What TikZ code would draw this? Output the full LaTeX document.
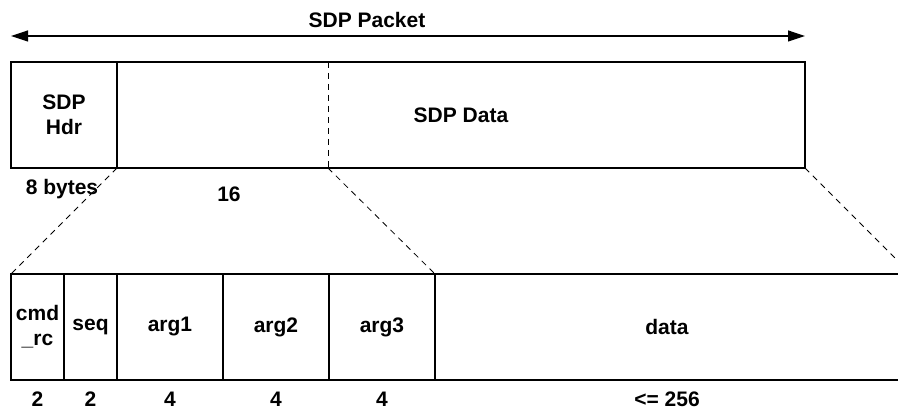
\documentclass[tikz,border=0pt]{standalone}
\usepackage{fontspec}
\setmainfont{Liberation Sans}
\usetikzlibrary{arrows.meta}
\begin{document}
\begin{tikzpicture}[x=1pt,y=-1pt,
  every node/.style={font=\fontsize{21}{25}\selectfont\bfseries, inner sep=0pt},
  field/.style={draw, line width=1.5pt, outer sep=0pt,
    anchor=north west, minimum height=106pt, align=center},
  guide/.style={line width=0.8pt, dash pattern=on 6pt off 5pt},
  edge/.style={line width=1.5pt},
  >={Triangle[length=17pt,width=11pt]}]
\useasboundingbox (0,0) rectangle (898,409);
\clip (0,0) rectangle (898,409);

% packet overview
\node[field, minimum width=106pt] (hdr) at (11,62) {SDP\\Hdr};
\node[field, minimum width=688pt] (body) at (117,62) {SDP Data};
\coordinate (split) at (328,62);
\draw[guide] (split) -- (split |- body.south);

% overall length arrow
\coordinate (pl) at (11,36);
\coordinate (pr) at (805,36);
\draw[<->, line width=1.2pt] (pl) -- (pr);
\node (ptitle) at (367,20) {SDP Packet};

% size labels of the overview
\node (szhdr) at (62,189) {8 bytes};
\node (szbody) at (229,194) {16};

% expanded data fields
\node[field, minimum width=53pt] (cmd) at (11,274) {cmd\\\_rc};
\node[field, minimum width=53pt] (seq) at (64,274) {seq};
\node[field, minimum width=106pt] (arg1) at (117,274) {arg1};
\node[field, minimum width=106pt] (arg2) at (223,274) {arg2};
\node[field, minimum width=106pt] (arg3) at (329,274) {arg3};
\node[field, draw=none, minimum width=464pt] (data) at (435,274) {data};
\draw[edge] (data.north west) -- (data.north east)
            (data.south west) -- (data.south east);

% projection guides
\draw[guide] (hdr.south east) -- (cmd.north west);
\draw[guide] (split |- body.south) -- (arg3.north east);
\coordinate (farend) at (911,274);
\draw[guide] (body.south east) -- (farend);

% field sizes
\node (szcmd)  at (cmd.center  |- 0,399) {2};
\node (szseq)  at (seq.center  |- 0,399) {2};
\node (sza1)   at (arg1.center |- 0,399) {4};
\node (sza2)   at (arg2.center |- 0,399) {4};
\node (sza3)   at (arg3.center |- 0,399) {4};
\node (szdata) at (data.center |- 0,399) {<= 256};
\end{tikzpicture}
\end{document}
